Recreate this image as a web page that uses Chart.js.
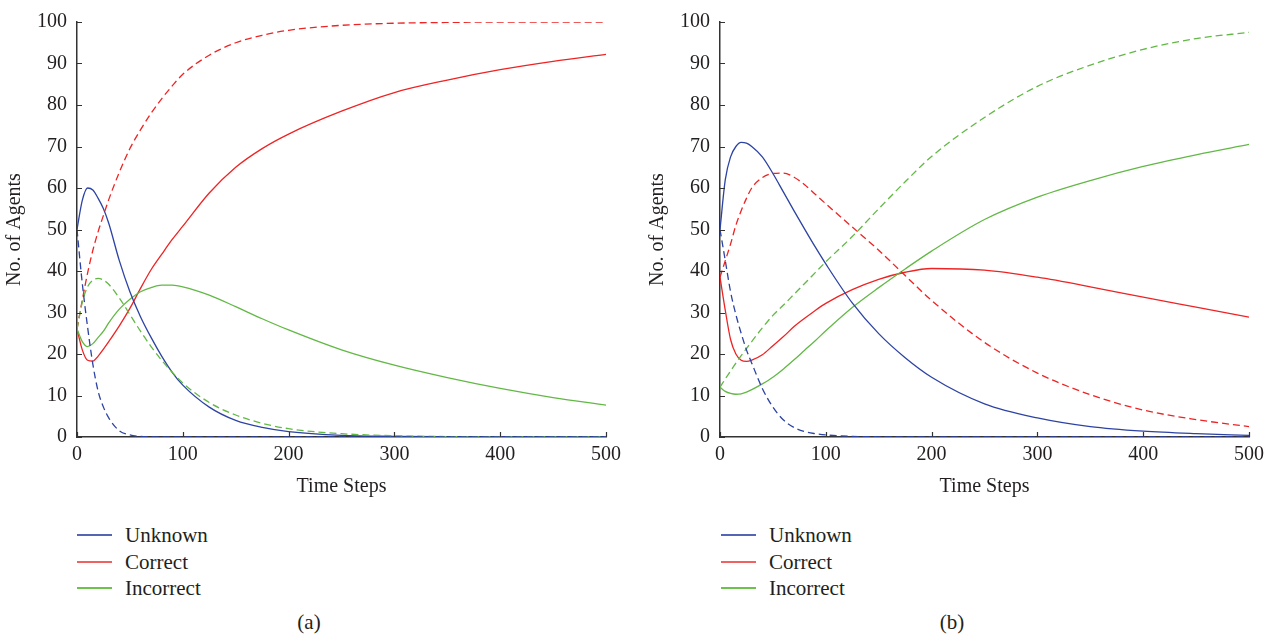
<!DOCTYPE html>
<html>
<head>
<meta charset="utf-8">
<script src="https://cdn.jsdelivr.net/npm/chart.js@4"></script>
<style>
  body { margin: 0; background: #fff; overflow: hidden; }
  #wrap { position: relative; width: 1272px; height: 635px; font-family: "Liberation Serif", serif; color: #231f20; }
  canvas { position: absolute; top: 0; }
  .key { position: absolute; height: 1.5px; width: 35px; }
  .lbl { position: absolute; font-size: 21px; line-height: 24px; white-space: nowrap; }
  .cap { position: absolute; font-size: 21px; line-height: 24px; width: 60px; text-align: center; }
</style>
</head>
<body>
<div id="wrap">
  <canvas id="chartA" width="629" height="500" style="left:0px"></canvas>
  <canvas id="chartB" width="629" height="500" style="left:643px"></canvas>

  <div class="key" style="left:77px;top:534px;background:#5565b5"></div>
  <div class="lbl" style="left:125px;top:523px">Unknown</div>
  <div class="key" style="left:77px;top:561px;background:#f06262"></div>
  <div class="lbl" style="left:125px;top:550px">Correct</div>
  <div class="key" style="left:77px;top:587px;background:#6cc24a"></div>
  <div class="lbl" style="left:125px;top:576px">Incorrect</div>
  <div class="cap" style="left:279px;top:610px">(a)</div>

  <div class="key" style="left:721px;top:534px;background:#5565b5"></div>
  <div class="lbl" style="left:769px;top:523px">Unknown</div>
  <div class="key" style="left:721px;top:561px;background:#f06262"></div>
  <div class="lbl" style="left:769px;top:550px">Correct</div>
  <div class="key" style="left:721px;top:587px;background:#6cc24a"></div>
  <div class="lbl" style="left:769px;top:576px">Incorrect</div>
  <div class="cap" style="left:922px;top:610px">(b)</div>
</div>

<script>
// time steps shared by every series
const timeSteps = [0, 5, 10, 15, 20, 25, 30, 40, 50, 60, 70, 80, 90, 100, 125, 150, 175, 200, 250, 300, 350, 400, 450, 500];

// panel (a)
const unknownA       = [50, 57, 60, 59.5, 57.5, 55, 51.5, 42.5, 35, 29, 24, 19.5, 15.6, 12.5, 7.2, 4, 2.3, 1.3, 0.4, 0.15, 0.05, 0, 0, 0];
const unknownDashA   = [50, 37, 26.5, 17.5, 11, 7.2, 4.6, 1.5, 0.5, 0.15, 0.05, 0, 0, 0, 0, 0, 0, 0, 0, 0, 0, 0, 0, 0];
const correctA       = [26, 21, 18.5, 18.3, 19.5, 21.2, 23, 26.8, 31, 35.8, 40.3, 44, 47.6, 50.8, 58.8, 65, 69.5, 73, 78.5, 83, 86, 88.5, 90.5, 92.2];
const correctDashA   = [26, 33, 39.5, 45, 49.5, 53.4, 57.2, 63.8, 69.5, 74, 78, 81.5, 84.6, 87.4, 92, 95, 96.8, 98, 99.2, 99.7, 99.9, 100, 100, 100];
const incorrectA     = [26, 23, 21.8, 22.5, 24, 25.5, 27.5, 30.8, 33.2, 35, 36, 36.6, 36.6, 36.2, 34.2, 31.4, 28.5, 25.8, 21, 17.3, 14.3, 11.7, 9.5, 7.7];
const incorrectDashA = [26, 32.5, 36.2, 37.8, 38.2, 37.8, 36.8, 33.5, 29.5, 25.5, 21.8, 18.5, 15.6, 13, 8.3, 5.3, 3.3, 2, 0.8, 0.3, 0.1, 0, 0, 0];

// panel (b)
const unknownB       = [50, 62, 67.5, 70, 71, 70.8, 70, 67.5, 63.5, 59, 54.5, 50.1, 45.8, 41.7, 32.3, 24.9, 19.1, 14.4, 8, 4.6, 2.5, 1.4, 0.8, 0.4];
const unknownDashB   = [50, 42.5, 35, 29.5, 25, 21, 17.8, 11.7, 7.2, 4.1, 2.3, 1.3, 0.8, 0.5, 0.15, 0.05, 0, 0, 0, 0, 0, 0, 0, 0];
const correctB       = [38.5, 30.5, 23.5, 20, 18.5, 18.2, 18.5, 19.8, 22, 24.2, 26.6, 28.6, 30.5, 32.2, 35.5, 38, 39.7, 40.6, 40.2, 38.5, 36.2, 33.7, 31.3, 28.9];
const correctDashB   = [38.5, 42.5, 46.5, 51, 54.5, 57.5, 60, 62.5, 63.5, 63.6, 62.6, 60.8, 58.5, 56.2, 50.6, 45, 38.9, 32.9, 22.8, 15.4, 10.2, 6.5, 4.2, 2.5];
const incorrectB     = [12, 11, 10.5, 10.3, 10.4, 10.8, 11.4, 12.8, 14.4, 16.4, 18.6, 20.9, 23.2, 25.6, 31.2, 36, 40.5, 44.8, 52.4, 57.8, 61.8, 65.2, 68, 70.5];
const incorrectDashB = [12, 14, 15.9, 17.8, 19.6, 21.3, 23, 26.3, 29.3, 31.8, 34.4, 37, 39.6, 42.2, 48.3, 55, 61.5, 67.6, 77, 84.5, 89.6, 93.4, 96, 97.5];

const xTicks = [0, 100, 200, 300, 400, 500];
const yTicks = [0, 10, 20, 30, 40, 50, 60, 70, 80, 90, 100];

const BLUE = "#2c43a3";
const RED = "#ee2323";
const GREEN = "#62b845";
const AXIS = "#333333";

Chart.defaults.font.family = "'Liberation Serif', serif";
Chart.defaults.font.size = 20;
Chart.defaults.color = "#231f20";

function toPoints(ys) {
  return timeSteps.map((t, i) => ({ x: t, y: ys[i] }));
}

function series(ys, color, dashed) {
  return {
    data: toPoints(ys),
    borderColor: color,
    borderWidth: 1.3,
    borderDash: dashed ? [7, 4] : [],
    pointRadius: 0,
    cubicInterpolationMode: "monotone",
    fill: false,
  };
}

// small tick marks pointing into the plot
const innerTicks = {
  id: "innerTicks",
  afterDraw(chart) {
    const ctx = chart.ctx;
    const { x, y } = chart.scales;
    ctx.save();
    ctx.strokeStyle = AXIS;
    ctx.lineWidth = 1.2;
    ctx.beginPath();
    xTicks.forEach((v) => {
      const px = Math.round(x.getPixelForValue(v)) + 0.5;
      ctx.moveTo(px, y.bottom);
      ctx.lineTo(px, y.bottom - 5);
    });
    yTicks.forEach((v) => {
      const py = Math.round(y.getPixelForValue(v)) + 0.5;
      ctx.moveTo(x.left, py);
      ctx.lineTo(x.left + 5, py);
    });
    ctx.stroke();
    ctx.restore();
  },
};

function makeChart(id, sets) {
  const ctx = document.getElementById(id).getContext("2d");
  return new Chart(ctx, {
    type: "line",
    data: { datasets: sets },
    options: {
      responsive: false,
      animation: false,
      events: [],
      layout: { padding: { top: 20, right: 23, left: 0, bottom: 0 } },
      plugins: { legend: { display: false }, tooltip: { enabled: false } },
      scales: {
        x: {
          type: "linear",
          min: 0,
          max: 500,
          afterBuildTicks: (s) => { s.ticks = xTicks.map((v) => ({ value: v })); },
          afterFit: (s) => { s.height = 63; },
          ticks: { padding: 6, maxRotation: 0 },
          grid: { display: false, drawTicks: false },
          border: { display: true, color: AXIS, width: 1.5 },
          title: { display: true, text: "Time Steps", padding: { top: 0, bottom: 1 } },
        },
        y: {
          type: "linear",
          min: 0,
          max: 100,
          afterBuildTicks: (s) => { s.ticks = yTicks.map((v) => ({ value: v })); },
          afterFit: (s) => { s.width = 77; },
          ticks: { padding: 10 },
          grid: { display: false, drawTicks: false },
          border: { display: true, color: AXIS, width: 1.5 },
          title: { display: true, text: "No. of Agents", padding: { top: 3, bottom: 0 } },
        },
      },
    },
    plugins: [innerTicks],
  });
}

makeChart("chartA", [
  series(unknownDashA, BLUE, true),
  series(incorrectDashA, GREEN, true),
  series(correctDashA, RED, true),
  series(unknownA, BLUE, false),
  series(incorrectA, GREEN, false),
  series(correctA, RED, false),
]);

makeChart("chartB", [
  series(unknownDashB, BLUE, true),
  series(incorrectDashB, GREEN, true),
  series(correctDashB, RED, true),
  series(unknownB, BLUE, false),
  series(incorrectB, GREEN, false),
  series(correctB, RED, false),
]);
</script>
</body>
</html>
